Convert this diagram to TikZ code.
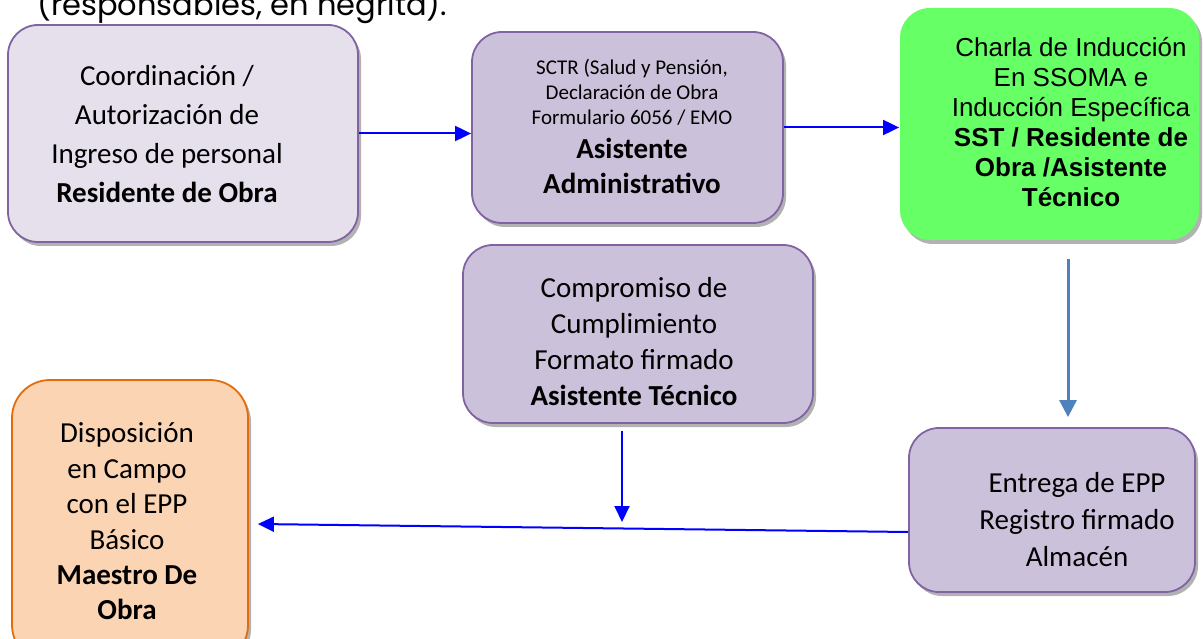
\documentclass[tikz,border=0pt]{standalone}
\usepackage{fontspec}
\setmainfont{Carlito}
\newfontfamily\arialfont{Liberation Sans}
\newfontfamily\gothicfont{Poppins}
\usetikzlibrary{arrows.meta,shadows}

\definecolor{lila}{HTML}{8064A2}
\definecolor{lilaclaro}{HTML}{E5E0EC}
\definecolor{lilamedio}{HTML}{CCC1DA}
\definecolor{verde}{HTML}{66FF66}
\definecolor{naranja}{HTML}{E46C0A}
\definecolor{durazno}{HTML}{FBD4B4}
\definecolor{azul}{HTML}{0000FF}
\definecolor{acero}{HTML}{4F81BD}

\begin{document}
\begin{tikzpicture}[x=1pt,y=-1pt,
  caja/.style={draw=lila,line width=1.8pt,rounded corners=30pt,inner sep=0pt,
    drop shadow={shadow xshift=3pt,shadow yshift=-4pt,fill=black,opacity=0.3}},
  texto/.style={align=center,inner sep=0pt,font=\fontsize{29}{39}\selectfont},
  flecha/.style={draw=azul,line width=2pt,-{Triangle[length=16pt,width=15pt]}},
  flechaacero/.style={draw=acero,line width=3pt,-{Triangle[length=17pt,width=17pt]}}]
\useasboundingbox (0,0) rectangle (1203,639);

% titulo cortado arriba
\node[anchor=base west,inner sep=0pt,font=\gothicfont\fontsize{30.5}{32}\selectfont] (titulo) at (37,16) {(responsables, en negrita).};

% cajas
\node[caja,fill=lilaclaro,minimum width=350pt,minimum height=217pt] (coord) at (183,133.5) {};
\node[caja,fill=lilamedio,minimum width=311pt,minimum height=191pt] (sctr) at (627.5,127.5) {};
\node[caja,draw=none,fill=verde,minimum width=299pt,minimum height=232pt] (charla) at (1049.5,124) {};
\node[caja,fill=lilamedio,minimum width=350pt,minimum height=178pt] (compromiso) at (638,334) {};
\node[caja,draw=naranja,fill=durazno,rounded corners=38pt,minimum width=236pt,minimum height=283pt] (dispo) at (130,521.5) {};
\node[caja,fill=lilamedio,minimum width=286pt,minimum height=164pt] (entrega) at (1052,510) {};

% textos
\node[texto] (tcoord) at (167,134) {Coordinación /\\Autorización de\\Ingreso de personal\\\textbf{Residente de Obra}};
\node[texto,font=\fontsize{21}{25}\selectfont] (tsctr) at (632,92) {SCTR (Salud y Pensión,\\Declaración de Obra\\Formulario 6056 / EMO};
\node[texto,font=\fontsize{29}{35}\selectfont\bfseries] (tsctrb) at (632,165.5) {Asistente\\Administrativo};
\node[texto,font=\arialfont\fontsize{26}{30}\selectfont] (tcharla) at (1071,122) {Charla de Inducción\\En SSOMA e\\Inducción Específica\\\textbf{SST / Residente de}\\\textbf{Obra /Asistente}\\\textbf{Técnico}};
\node[texto,font=\fontsize{29}{36}\selectfont] (tcompromiso) at (634,342) {Compromiso de\\Cumplimiento\\Formato firmado\\\textbf{Asistente Técnico}};
\node[texto,font=\fontsize{29}{35.4}\selectfont] (tdispo) at (127,521.5) {Disposición\\en Campo\\con el EPP\\Básico\\\textbf{Maestro De}\\\textbf{Obra}};
\node[texto,font=\fontsize{29}{37}\selectfont] (tentrega) at (1077,520) {Entrega de EPP\\Registro firmado\\Almacén};

% flechas
\coordinate (cruce) at (622,522);
\draw[flecha] (coord.east) -- (coord.east -| sctr.west);
\draw[flecha] (sctr.east) -- (sctr.east -| charla.west);
\draw[flechaacero] ([xshift=18.5pt,yshift=-18pt]charla.south) -- ([xshift=16pt,yshift=10pt]entrega.north);
\draw[flecha] ([xshift=-16pt,yshift=-7pt]compromiso.south) -- (cruce);
\draw[flecha] ([yshift=-22pt]entrega.west) -- ([xshift=9pt,yshift=-2.5pt]dispo.east);
\end{tikzpicture}
\end{document}
